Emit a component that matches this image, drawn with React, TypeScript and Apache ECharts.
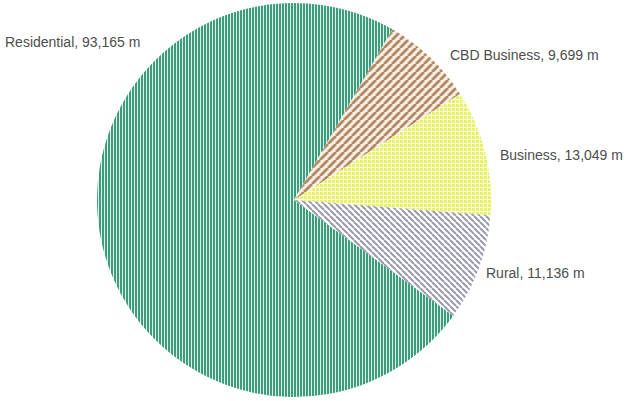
import React, { useEffect, useRef } from "react";
import * as echarts from "echarts";

const categories = ["Residential", "CBD Business", "Business", "Rural"];
const values = [93165, 9699, 13049, 11136];
const unit = "m";

// label anchor positions (left edge, vertical middle), in px
const labelPos: [number, number][] = [
  [5, 42],
  [450, 55],
  [500, 155],
  [486, 273],
];

function makeCanvas(w: number, h: number) {
  const c = document.createElement("canvas");
  c.width = w;
  c.height = h;
  return c;
}

function verticalStripes(dark: string, light: string) {
  const c = makeCanvas(3, 4);
  const g = c.getContext("2d")!;
  g.fillStyle = light;
  g.fillRect(0, 0, 3, 4);
  g.fillStyle = dark;
  g.fillRect(0, 0, 2, 4);
  return c;
}

function diagStripes(stripe: string, bg: string, s: number, dir: 1 | -1, lw: number) {
  const c = makeCanvas(s, s);
  const g = c.getContext("2d")!;
  g.fillStyle = bg;
  g.fillRect(0, 0, s, s);
  g.strokeStyle = stripe;
  g.lineWidth = lw;
  for (let k = -1; k <= 1; k++) {
    g.beginPath();
    if (dir === 1) {
      g.moveTo(k * s, s);
      g.lineTo(k * s + s, 0);
    } else {
      g.moveTo(k * s, 0);
      g.lineTo(k * s + s, s);
    }
    g.stroke();
  }
  return c;
}

function grid(fill: string, line: string) {
  const c = makeCanvas(4, 4);
  const g = c.getContext("2d")!;
  g.fillStyle = fill;
  g.fillRect(0, 0, 4, 4);
  g.fillStyle = line;
  g.fillRect(3, 0, 1, 4);
  g.fillRect(0, 3, 4, 1);
  return c;
}

export default function App() {
  const ref = useRef<HTMLDivElement>(null);
  useEffect(() => {
    if (!ref.current) return;
    const chart = echarts.init(ref.current, undefined, { renderer: "svg" });
    const patterns = [
      verticalStripes("#3f9b7b", "#d8f3e8"),
      diagStripes("#b48a66", "#f5eee4", 8, 1, 2.8),
      grid("#e9f262", "#fafde0"),
      diagStripes("#9a9aae", "#ffffff", 6, -1, 2),
    ];
    const fmt = (v: number) => v.toLocaleString("en-US");
    chart.setOption({
      animation: false,
      backgroundColor: "#ffffff",
      series: [
        {
          type: "pie",
          center: [294, 200],
          radius: 197,
          startAngle: 324,
          clockwise: true,
          silent: true,
          data: categories.map((name, i) => ({
            name,
            value: values[i],
            itemStyle: {
              color: { image: patterns[i], repeat: "repeat" },
            },
          })),
          itemStyle: { borderWidth: 0 },
          label: {
            show: true,
            position: "outside",
            overflow: "none",
            width: 300,
            formatter: (p: any) => `${p.name}, ${fmt(p.value)} ${unit}`,
            fontFamily: "Liberation Sans, Arial, sans-serif",
            fontSize: 14,
            color: "#4d4d4d",
          },
          labelLine: { show: false },
          labelLayout: (p: any) => ({
            x: labelPos[p.dataIndex][0],
            y: labelPos[p.dataIndex][1],
            align: "left",
            verticalAlign: "middle",
          }),
        },
      ],
    });
    return () => chart.dispose();
  }, []);
  return (
    <div
      ref={ref}
      style={{ position: "absolute", left: 0, top: 0, width: 626, height: 401 }}
    />
  );
}
